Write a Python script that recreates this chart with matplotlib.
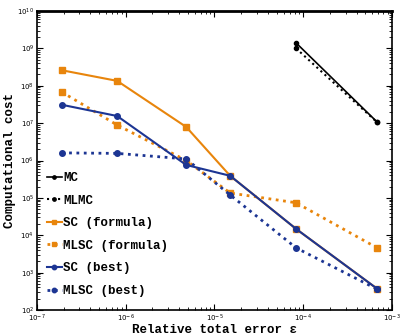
import matplotlib
matplotlib.use('Agg')
import matplotlib.pyplot as plt
import numpy as np

eps = [1.9e-7, 8.0e-7, 4.8e-6, 1.5e-5, 8.3e-5, 6.8e-4]

mc_eps = [8.3e-5, 6.8e-4]
mc_cost = [1.4e9, 1.07e7]
mlmc_cost = [1.0e9, 1.05e7]

sc_formula = [2.6e8, 1.35e8, 7.9e6, 3.9e5, 1.48e4, 3.7e2]
mlsc_formula = [6.8e7, 8.9e6, 1.0e6, 1.35e5, 7.4e4, 4.6e3]
sc_best = [3.1e7, 1.55e7, 7.6e5, 3.9e5, 1.48e4, 3.7e2]
mlsc_best = [1.6e6, 1.55e6, 1.1e6, 1.2e5, 4.6e3, 3.6e2]

orange = '#e8850c'
blue = '#1c3593'
mono = {'family': 'Liberation Mono', 'weight': 'bold'}

fig = plt.figure(figsize=(4.02, 3.35), dpi=100)
ax = fig.add_axes([37/402, 25/335, 355/402, 299/335])

ax.plot(mc_eps, mc_cost, '-', color='k', marker='o', ms=3, lw=1.2, label='MC')
ax.plot(mc_eps, mlmc_cost, ':', color='k', marker='o', ms=3, lw=1.5, label='MLMC')
ax.plot(eps, sc_formula, '-', color=orange, marker='s', ms=4, lw=1.5, label='SC (formula)')
ax.plot(eps, mlsc_formula, ':', color=orange, marker='s', ms=4, lw=2, label='MLSC (formula)')
ax.plot(eps, sc_best, '-', color=blue, marker='o', ms=4, lw=1.5, label='SC (best)')
ax.plot(eps, mlsc_best, ':', color=blue, marker='o', ms=4, lw=2, label='MLSC (best)')

ax.set_xscale('log')
ax.set_yscale('log')
ax.set_xlim(1e-7, 1e-3)
ax.set_ylim(1e2, 1e10)
ax.tick_params(which='both', direction='in', top=True, right=True, labelsize=5, pad=2)
ax.tick_params(which='major', length=4)
ax.tick_params(which='minor', length=2)
for s in ax.spines.values():
    s.set_linewidth(1.2)
ax.spines['top'].set_linewidth(2)

ax.set_xlabel('Relative total error \u03b5', fontdict=mono, fontsize=9, labelpad=0)
ax.set_ylabel('Computational cost', fontdict=mono, fontsize=9, labelpad=1)

leg = ax.legend(loc='lower left', frameon=False,
                prop={'family': 'Liberation Mono', 'weight': 'bold', 'size': 9},
                handlelength=1.2, handletextpad=0.1, labelspacing=0.85, borderaxespad=0.4,
                bbox_to_anchor=(0.0, 0.01), markerscale=0.8)

fig.savefig('out.png', dpi=100)
